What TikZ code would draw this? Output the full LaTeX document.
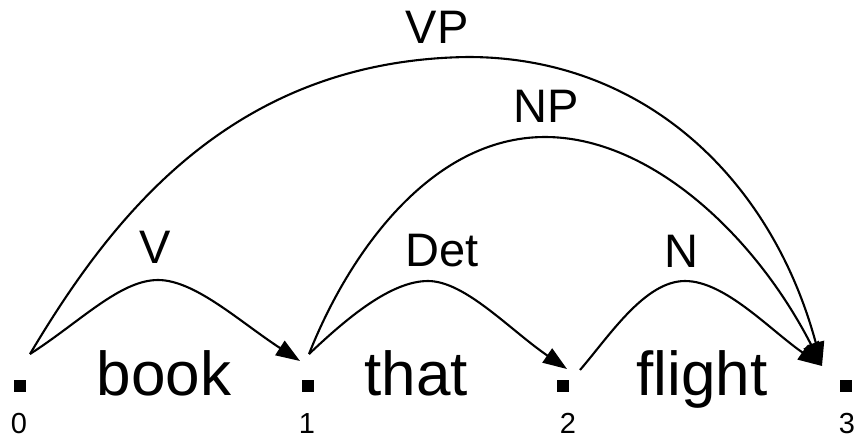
\documentclass[tikz,border=0pt]{standalone}
\usepackage{fontspec}
\setmainfont{Liberation Sans}
\usetikzlibrary{arrows.meta}
\begin{document}
\begin{tikzpicture}[x=1pt,y=-1pt,
  arcline/.style={line width=2.1pt, -{Triangle[length=24pt,width=17pt]}},
  pointbox/.style={fill=black, draw=none, minimum size=12pt, inner sep=0pt},
  wordtext/.style={anchor=base, inner sep=0pt, font=\fontsize{62}{62}\selectfont},
  cattext/.style={anchor=base, inner sep=0pt, font=\fontsize{47}{47}\selectfont},
  numtext/.style={anchor=base, inner sep=0pt, font=\fontsize{29}{29}\selectfont}]
\useasboundingbox (0,0) rectangle (861,442);
% positions
\node[pointbox] (p0) at (20,386) {};
\node[pointbox] (p1) at (307.5,386) {};
\node[pointbox] (p2) at (563,386) {};
\node[pointbox] (p3) at (845.5,386) {};
\node[numtext] (n0) at (19,433) {0};
\node[numtext] (n1) at (307,433) {1};
\node[numtext] (n2) at (568,433) {2};
\node[numtext] (n3) at (847,433) {3};
% words
\node[wordtext] (w1) at (164,395) {book};
\node[wordtext] (w2) at (416,395) {that};
\node[wordtext] (w3) at (702,395) {flight};
% category labels
\node[cattext] (lV) at (155,263) {V};
\node[cattext] (lDet) at (442,266) {Det};
\node[cattext] (lN) at (681,267) {N};
\node[cattext] (lNP) at (546,122) {NP};
\node[cattext] (lVP) at (437,43) {VP};
% arc end points
\coordinate (s0) at (30,354);
\coordinate (e1) at (300,361);
\coordinate (s1) at (309,354);
\coordinate (e2) at (567,369);
\coordinate (s2) at (580,370);
\coordinate (e3) at (822,366);
% arcs
\draw[arcline] (s0) .. controls (80,322) and (120,280) .. (158,280)
  .. controls (195,280) and (240,322) .. (e1);
\draw[arcline] (s1) .. controls (345,320) and (390,281) .. (428,281)
  .. controls (465,281) and (510,330) .. (e2);
\draw[arcline] (s2) .. controls (610,335) and (645,281) .. (685,281)
  .. controls (725,281) and (770,330) .. (e3);
\draw[arcline] (s1) .. controls (348,255) and (430,137) .. (545,137)
  .. controls (650,137) and (755,235) .. (e3);
\draw[arcline] (s0) .. controls (110,220) and (230,60) .. (468,57)
  .. controls (645,57) and (772,180) .. (e3);
\end{tikzpicture}
\end{document}
